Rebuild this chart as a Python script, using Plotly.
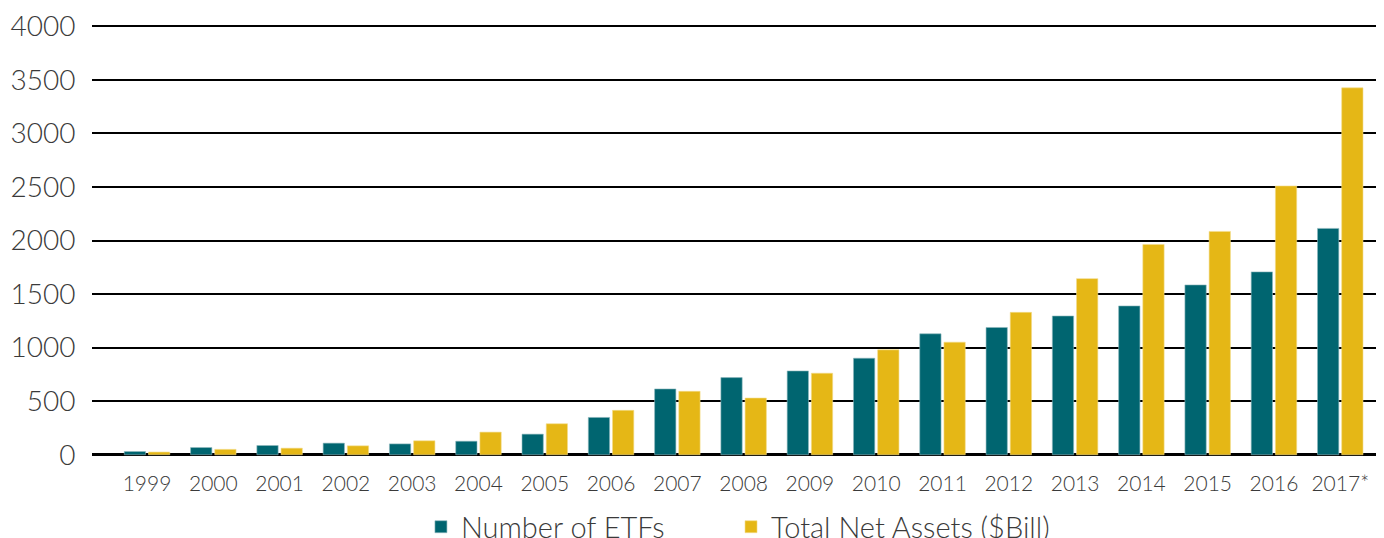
import plotly.graph_objects as go

years = ["1999", "2000", "2001", "2002", "2003", "2004", "2005", "2006", "2007", "2008",
         "2009", "2010", "2011", "2012", "2013", "2014", "2015", "2016", "2017*"]
num_etfs = [30, 67, 86, 108, 101, 126, 192, 348, 614, 720,
            782, 901, 1129, 1188, 1295, 1389, 1585, 1707, 2113]
net_assets = [25, 50, 61, 83, 130, 211, 289, 414, 592, 529,
              761, 979, 1051, 1329, 1644, 1963, 2085, 2509, 3425]

TEAL = "#006570"
GOLD = "#E5B716"
TEXT = "#3a3a3a"
FONT = "Lato"

fig = go.Figure()
fig.add_trace(go.Bar(x=years, y=num_etfs, name="Number of ETFs", legend="legend",
                     marker=dict(color=TEAL, line=dict(color="#8fb8bd", width=0.6))))
fig.add_trace(go.Bar(x=years, y=net_assets, name="Total Net Assets ($Bill)", legend="legend2",
                     marker=dict(color=GOLD, line=dict(color="#f3dc8a", width=0.6))))

legend_style = dict(orientation="h", xanchor="left", xref="paper",
                    y=0.021, yanchor="middle", yref="container",
                    font=dict(size=29, family=FONT, color=TEXT, weight=300),
                    itemwidth=30, bgcolor="rgba(0,0,0,0)")

# page body has an 8px default margin, so the figure is 8px smaller than the window
fig.update_layout(
    width=1376, height=530,
    margin=dict(l=84, r=0, t=14, b=79, autoexpand=False),
    paper_bgcolor="white", plot_bgcolor="white",
    barmode="group", bargap=0.27, bargroupgap=0.12,
    font=dict(family=FONT, color=TEXT, weight=300),
    showlegend=True,
    legend=dict(x=0.2546, **legend_style),
    legend2=dict(x=0.4946, **legend_style),
    xaxis=dict(type="category", range=[-0.83, 18.66], showgrid=False, zeroline=False,
               showline=False, ticks="outside", ticklen=6, tickcolor="rgba(0,0,0,0)",
               automargin=False,
               tickfont=dict(size=21, family=FONT, color=TEXT, weight=300)),
    yaxis=dict(range=[-40, 4040], tickvals=[0, 500, 1000, 1500, 2000, 2500, 3000, 3500, 4000],
               showgrid=True, gridcolor="black", gridwidth=2.2,
               zeroline=True, zerolinecolor="black", zerolinewidth=3,
               ticks="outside", ticklen=10, tickcolor="rgba(0,0,0,0)",
               automargin=False,
               tickfont=dict(size=28, family=FONT, color=TEXT, weight=300)),
)

fig.write_html("out.html")
